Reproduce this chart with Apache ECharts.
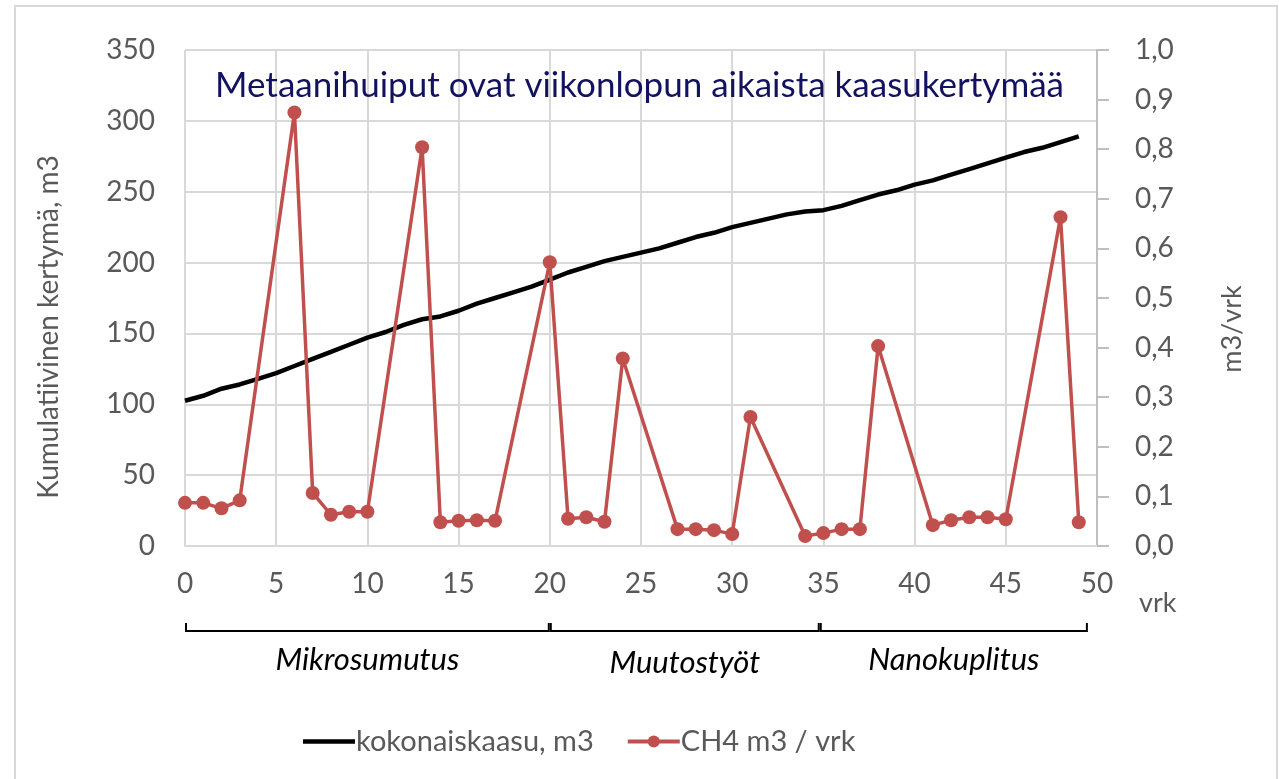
<!DOCTYPE html>
<html>
<head>
<meta charset="utf-8">
<script src="https://cdn.jsdelivr.net/npm/echarts@6/dist/echarts.min.js"></script>
<style>
html, body { margin: 0; padding: 0; background: #fff; }
#main { width: 1279px; height: 779px; }
</style>
</head>
<body>
<div id="main"></div>
<script>
// cumulative gas, one value per day 0..49
var gasDays = [0,1,2,3,4,5,6,7,8,9,10,11,12,13,14,15,16,17,18,19,20,21,22,23,24,25,26,27,28,29,30,31,32,33,34,35,36,37,38,39,40,41,42,43,44,45,46,47,48,49];
var totalGas = [102.5,106,111,114,118,122,127,132,137,142,
                147,151,156,160,162,166,171,175,179,183,
                188,193,197,201,204,207,210,214,218,221,
                225,228,231,234,236,237,240,244,248,251,
                255,258,262,266,270,274,278,281,285,289];

// methane per day, measured on weekdays only
var ch4Days = [0,1,2,3,6,7,8,9,10,13,14,15,16,17,20,21,22,23,24,27,28,29,30,31,34,35,36,37,38,41,42,43,44,45,48,49];
var ch4Values = [0.087,0.087,0.076,0.092,0.874,0.107,0.063,0.069,0.069,
                 0.804,0.048,0.051,0.052,0.051,0.572,0.055,0.058,0.049,0.378,
                 0.034,0.034,0.032,0.024,0.26,0.02,0.026,0.034,0.034,0.403,
                 0.042,0.052,0.058,0.058,0.054,0.663,0.048];

var phaseNames = ['Mikrosumutus', 'Muutostyöt', 'Nanokuplitus'];
var phaseStart = [0, 20, 34.8];
var phaseEnd = [20, 34.8, 49.5];

var labelColor = '#595959';
var gridColor = '#d9d9d9';
var font = 'Lato';

var myChart = echarts.init(document.getElementById('main'));

var option = {
    backgroundColor: '#fff',
    animation: false,
    title: {
        text: 'Metaanihuiput ovat viikonlopun aikaista kaasukertymää',
        left: 'center',
        top: 63,
        textStyle: { fontFamily: font, fontSize: 35, fontWeight: 'normal', color: '#12125e' }
    },
    legend: {
        left: 298,
        top: 722,
        itemWidth: 52,
        itemHeight: 15,
        itemGap: 32,
        textStyle: { fontFamily: font, fontSize: 29, color: labelColor, padding: [0, 0, 0, -4] },
        data: [
            { name: 'kokonaiskaasu, m3', icon: 'path://M0,0 L52,0 L52,4.5 L0,4.5 Z' },
            { name: 'CH4 m3 / vrk', lineStyle: { width: 4 } }
        ]
    },
    grid: { left: 185, right: 182, top: 50, bottom: 233 },
    xAxis: {
        type: 'value',
        min: 0,
        max: 50,
        interval: 5,
        name: 'vrk',
        nameLocation: 'end',
        nameGap: 42,
        nameTextStyle: { fontFamily: font, fontSize: 27, color: labelColor, verticalAlign: 'top', padding: [44, 0, 0, 0] },
        axisLine: { lineStyle: { color: gridColor, width: 2 } },
        axisTick: { show: false },
        axisLabel: { fontFamily: font, fontSize: 28, color: labelColor, margin: 24 },
        splitLine: { show: true, lineStyle: { color: gridColor, width: 2 } }
    },
    yAxis: [{
        type: 'value',
        min: 0,
        max: 350,
        interval: 50,
        name: 'Kumulatiivinen kertymä, m3',
        nameLocation: 'middle',
        nameGap: 122,
        nameTextStyle: { fontFamily: font, fontSize: 28, color: labelColor, padding: [0, 58, 0, 0] },
        axisLine: { show: false },
        axisTick: { show: false },
        axisLabel: { fontFamily: font, fontSize: 28, color: labelColor, margin: 30 },
        splitLine: { lineStyle: { color: gridColor, width: 2 } }
    }, {
        type: 'value',
        min: 0,
        max: 1,
        interval: 0.1,
        position: 'right',
        name: 'm3/vrk',
        nameLocation: 'middle',
        nameGap: 122,
        nameTextStyle: { fontFamily: font, fontSize: 27, color: labelColor, padding: [0, 62, 0, 0] },
        axisLine: { show: true, lineStyle: { color: '#bfbfbf', width: 2 } },
        axisTick: { show: true, inside: false, length: 12, lineStyle: { color: '#bfbfbf', width: 2 } },
        axisLabel: {
            fontFamily: font, fontSize: 28, color: labelColor, margin: 38,
            formatter: function (v) { return v.toFixed(1).replace('.', ','); }
        },
        splitLine: { show: false }
    }],
    series: [{
        name: 'kokonaiskaasu, m3',
        type: 'line',
        yAxisIndex: 0,
        data: gasDays.map(function (d, i) { return [d, totalGas[i]]; }),
        showSymbol: false,
        symbol: 'none',
        lineStyle: { color: '#000', width: 4.5 },
        itemStyle: { color: '#000' },
        z: 3
    }, {
        name: 'CH4 m3 / vrk',
        type: 'line',
        yAxisIndex: 1,
        data: ch4Days.map(function (d, i) { return [d, ch4Values[i]]; }),
        symbol: 'circle',
        symbolSize: 14,
        lineStyle: { color: '#c0504d', width: 3.5 },
        itemStyle: { color: '#c0504d' },
        z: 4
    }]
};
myChart.setOption(option);

// phase brackets under the x axis
var graphics = [{
    type: 'rect',
    shape: { x: 15, y: 6, width: 1262, height: 800 },
    style: { fill: 'none', stroke: '#d9d9d9', lineWidth: 2 },
    silent: true
}];
var bracketY = 631;
phaseNames.forEach(function (name, i) {
    var x0 = myChart.convertToPixel({ xAxisIndex: 0 }, phaseStart[i]);
    var x1 = myChart.convertToPixel({ xAxisIndex: 0 }, phaseEnd[i]);
    graphics.push({
        type: 'polyline',
        shape: { points: [[x0 + 1, bracketY - 8], [x0 + 1, bracketY], [x1 - 1, bracketY], [x1 - 1, bracketY - 8]] },
        style: { stroke: '#000', lineWidth: 2, fill: 'none' },
        silent: true
    });
    graphics.push({
        type: 'text',
        x: (x0 + x1) / 2,
        y: 660 + (i === 1 ? 3 : 0),
        style: {
            text: name, fontFamily: font, fontSize: 31, fontStyle: 'italic',
            fill: '#000', align: 'center', verticalAlign: 'middle'
        },
        silent: true
    });
});
myChart.setOption({ graphic: graphics });
</script>
</body>
</html>
